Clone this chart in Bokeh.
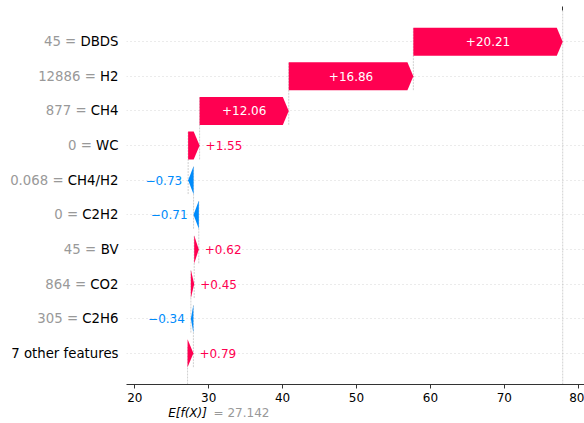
from bokeh.plotting import figure
from bokeh.layouts import column, row
from bokeh.models import (ColumnDataSource, FixedTicker, Span, Spacer,
                          LinearAxis, Range1d, CustomJSTickFormatter)
from bokeh.core.properties import value
from bokeh.embed import file_html
from bokeh.resources import INLINE

# SHAP waterfall: features listed top to bottom
feature_names = ["DBDS", "H2", "CH4", "WC", "CH4/H2", "C2H2", "BV", "CO2", "C2H6", "7 other features"]
feature_values = ["45", "12886", "877", "0", "0.068", "0", "45", "864", "305", ""]
shap_values = [20.21, 16.86, 12.06, 1.55, -0.73, -0.71, 0.62, 0.45, -0.34, 0.79]
base_value = 27.142
x_ticks = [20, 30, 40, 50, 60, 70, 80]

POS = "#ff0051"
NEG = "#008bfb"
FONT = "DejaVu Sans"
NAME_SIZE = 13.3

X_START, X_END = 18.88, 80.85
Y_START, Y_END = -0.9, 9.9
LABEL_W = 126            # width of the feature-name column
PLOT_W = 584 - LABEL_W   # width of the waterfall area
TOP_H = 406              # height of the upper row (plot + x axis)
STRIP_H = 423 - TOP_H    # strip holding the expected-value note
BORDER_TOP, BORDER_BOTTOM = 10, 22
PX_PER_UNIT = PLOT_W / (X_END - X_START)
BAR_H = 0.81
HEAD = 0.8

# DejaVu Sans advance widths (em) for measuring label text
EM = {" ": 0.318, ".": 0.318, "=": 0.838, "/": 0.337, "+": 0.838, "\u2212": 0.838,
      "B": 0.686, "C": 0.698, "D": 0.770, "H": 0.752, "O": 0.787, "S": 0.635,
      "V": 0.684, "W": 0.989}
for d in "0123456789":
    EM[d] = 0.636


def text_width(s, size):
    return sum(EM.get(c, 0.6) for c in s) * size


n = len(feature_names)
rows = list(range(n - 1, -1, -1))  # top feature sits on the highest row

# cumulative positions, built from the bottom row (starting at the base value)
starts = [0.0] * n
ends = [0.0] * n
acc = base_value
for i in range(n - 1, -1, -1):
    starts[i] = acc
    acc += shap_values[i]
    ends[i] = acc
fx = acc

x_range = Range1d(X_START, X_END)
y_range = Range1d(Y_START, Y_END)

p = figure(width=PLOT_W, height=TOP_H, output_backend="svg", toolbar_location=None,
           x_range=x_range, y_range=y_range,
           min_border_left=0, min_border_right=0, min_border_top=BORDER_TOP,
           min_border_bottom=BORDER_BOTTOM, outline_line_color=None,
           background_fill_color="white")

# horizontal dotted row guides
p.xgrid.visible = False
p.ygrid.ticker = FixedTicker(ticks=rows)
p.ygrid.grid_line_color = "#cccccc"
p.ygrid.grid_line_dash = "1 3"
p.ygrid.grid_line_width = 0.8
p.yaxis.visible = False

# dashed connectors between consecutive bars
conn = ColumnDataSource(dict(
    x=[starts[i] for i in range(n - 1)],
    y0=[rows[i] - 1 - 0.4 for i in range(n - 1)],
    y1=[rows[i] + 0.4 for i in range(n - 1)],
))
p.segment(x0="x", y0="y0", x1="x", y1="y1", source=conn, line_color="#bbbbbb",
          line_dash="2 1", line_width=0.7)
p.segment(x0=[base_value], y0=[Y_START], x1=[base_value],
          y1=[Y_START + (Y_END - Y_START) / n], line_color="#bbbbbb",
          line_dash="2 1", line_width=0.7)
p.add_layout(Span(location=fx, dimension="height", line_color="#bbbbbb",
                  line_dash="2 1", line_width=0.7, level="underlay"))

# arrow-shaped bars
xs, ys, cols = [], [], []
for i in range(n):
    s, e, r = starts[i], ends[i], rows[i]
    v = shap_values[i]
    hl = min(HEAD, abs(v))
    sgn = 1 if v >= 0 else -1
    neck = e - sgn * hl
    xs.append([s, neck, e, neck, s])
    ys.append([r - BAR_H / 2, r - BAR_H / 2, r, r + BAR_H / 2, r + BAR_H / 2])
    cols.append(POS if v >= 0 else NEG)
p.patches(xs="xs", ys="ys", fill_color="c", line_color=None,
          source=ColumnDataSource(dict(xs=xs, ys=ys, c=cols)))

# value labels: inside (white) when they fit, otherwise beside the arrow tip
in_x, in_y, in_t = [], [], []
out_x, out_y, out_t, out_c, out_a, out_o = [], [], [], [], [], []
for i in range(n):
    v = shap_values[i]
    txt = f"{v:+.2f}".replace("-", "\u2212")
    bar_px = abs(v) * PX_PER_UNIT
    if text_width(txt, 12) + 10 < bar_px:
        in_x.append((starts[i] + ends[i]) / 2)
        in_y.append(rows[i])
        in_t.append(txt)
    else:
        out_x.append(ends[i])
        out_y.append(rows[i])
        out_t.append(txt)
        out_c.append(POS if v >= 0 else NEG)
        out_a.append("left" if v >= 0 else "right")
        out_o.append(6 if v >= 0 else -6)
p.text(x="x", y="y", text="t", source=ColumnDataSource(dict(x=in_x, y=in_y, t=in_t)),
       text_color="white", text_font=value(FONT), text_font_size="12px",
       text_align="center", text_baseline="middle")
p.text(x="x", y="y", text="t", x_offset="o", text_color="c", text_align="a",
       source=ColumnDataSource(dict(x=out_x, y=out_y, t=out_t, c=out_c, a=out_a, o=out_o)),
       text_font=value(FONT), text_font_size="12px", text_baseline="middle")

# bottom axis
xa = p.xaxis[0]
xa.ticker = FixedTicker(ticks=x_ticks)
xa.axis_line_color = "#333333"
xa.major_tick_line_color = "#333333"
xa.major_tick_out = 4
xa.major_tick_in = 0
xa.minor_tick_line_color = None
xa.major_label_standoff = 4
xa.major_label_text_font = FONT
xa.major_label_text_font_size = "12px"
xa.major_label_text_color = "black"

# top tick marking the model output
top = LinearAxis(ticker=FixedTicker(ticks=[fx]), axis_line_color=None,
                 major_tick_line_color="#333333", major_tick_out=4, major_tick_in=0,
                 minor_tick_line_color=None, major_label_standoff=0,
                 formatter=CustomJSTickFormatter(code="return ''"))
p.add_layout(top, "above")

# feature-name column, sharing the row scale of the waterfall
names = figure(width=LABEL_W, height=TOP_H, output_backend="svg", toolbar_location=None,
               x_range=Range1d(0, LABEL_W), y_range=y_range,
               min_border_left=0, min_border_right=0, min_border_top=BORDER_TOP,
               min_border_bottom=BORDER_BOTTOM, outline_line_color=None)
names.axis.visible = False
names.grid.visible = False
name_x = LABEL_W - 8
names.text(x=[name_x] * n, y=rows, text=feature_names, text_color="black",
           text_font=value(FONT), text_font_size=f"{NAME_SIZE}px", text_align="right",
           text_baseline="middle")
pre_y, pre_t, pre_o = [], [], []
for i in range(n):
    if feature_values[i]:
        pre_y.append(rows[i])
        pre_t.append(f"{feature_values[i]} =")
        pre_o.append(-(text_width(feature_names[i], NAME_SIZE) + text_width(" ", NAME_SIZE)))
names.text(x=[name_x] * len(pre_y), y=pre_y, text=pre_t, x_offset=pre_o,
           text_color="#999999", text_font=value(FONT), text_font_size=f"{NAME_SIZE}px",
           text_align="right", text_baseline="middle")

# strip under the axis with the expected model output
strip = figure(width=PLOT_W, height=STRIP_H, output_backend="svg", toolbar_location=None,
               x_range=x_range, y_range=Range1d(0, STRIP_H),
               min_border_left=0, min_border_right=0, min_border_top=0,
               min_border_bottom=0, outline_line_color=None)
strip.axis.visible = False
strip.grid.visible = False
note_y = STRIP_H - 6
strip.text(x=[base_value], y=[note_y], text=["E[f(X)]"], x_offset=-19.4,
           text_color="black", text_font=value(FONT), text_font_size="12px",
           text_font_style="italic", text_align="left", text_baseline="middle")
strip.text(x=[base_value], y=[note_y], text=[f"= {base_value:.3f}"], x_offset=26,
           text_color="#999999", text_font=value(FONT), text_font_size="12px",
           text_align="left", text_baseline="middle")

layout = column(row(names, p), row(Spacer(width=LABEL_W, height=STRIP_H), strip))
open("out.html", "w").write(file_html(layout, INLINE))
